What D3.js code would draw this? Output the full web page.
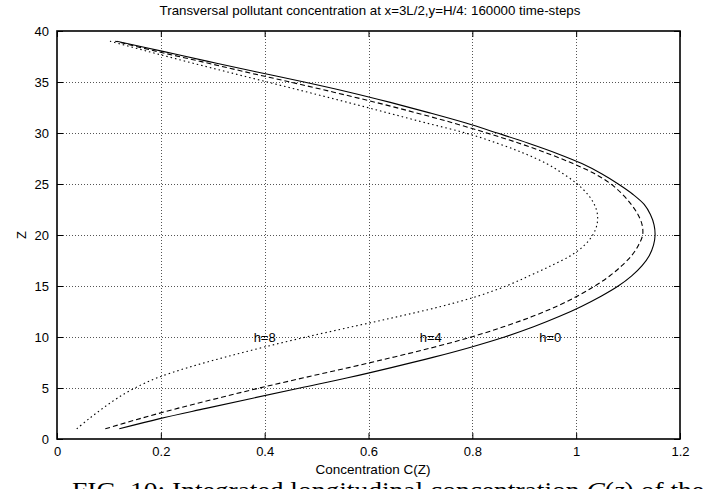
<!DOCTYPE html>
<html>
<head>
<meta charset="utf-8">
<script src="https://cdn.jsdelivr.net/npm/d3@7"></script>
<style>
  html, body { margin: 0; padding: 0; background: #fff; }
  svg { display: block; }
  text { font-family: "Liberation Sans", Arial, Helvetica, sans-serif; fill: #000; }
</style>
</head>
<body>
<svg id="chart" width="709" height="489"></svg>
<script>
// Height levels z (grid cells) and the concentration profiles C(z) for three values of h
const zLevels = [1,2,3,4,5,6,7,8,9,10,11,12,13,14,15,16,17,18,19,20,21,22,23,24,25,26,27,28,29,30,31,32,33,34,35,36,37,38,39];
const concH0 = [0.120,0.198,0.287,0.377,0.468,0.560,0.644,0.724,0.797,0.862,0.918,0.967,1.010,1.048,1.081,1.107,1.127,1.141,1.149,1.152,
                1.150,1.143,1.131,1.109,1.081,1.049,1.011,0.963,0.908,0.848,0.786,0.716,0.642,0.563,0.476,0.383,0.293,0.204,0.115];
const concH4 = [0.093,0.160,0.232,0.310,0.390,0.475,0.562,0.646,0.726,0.798,0.860,0.915,0.962,1.002,1.036,1.065,1.088,1.107,1.120,1.128,
                1.127,1.119,1.106,1.089,1.067,1.036,0.994,0.945,0.890,0.828,0.762,0.690,0.614,0.533,0.449,0.362,0.278,0.192,0.112];
const concH8 = [0.038,0.062,0.088,0.116,0.150,0.193,0.252,0.322,0.398,0.480,0.568,0.657,0.740,0.810,0.865,0.910,0.952,0.990,1.016,1.032,
                1.040,1.041,1.035,1.022,1.002,0.975,0.943,0.900,0.848,0.787,0.710,0.635,0.560,0.483,0.405,0.327,0.250,0.175,0.102];

const seriesNames = ["h=0", "h=4", "h=8"];
// label anchor for each curve (C, z)
const labelC = [0.95, 0.72, 0.40];
const labelZ = [10, 10, 10];

const xTicks = [0, 0.2, 0.4, 0.6, 0.8, 1, 1.2];
const yTicks = [0, 5, 10, 15, 20, 25, 30, 35, 40];

const titleText = "Transversal pollutant concentration at x=3L/2,y=H/4: 160000 time-steps";
const xLabel = "Concentration C(Z)";
const yLabel = "Z";

const svg = d3.select("#chart");
const L = 57, R = 680, T = 31, B = 439;

const x = d3.scaleLinear().domain([0, 1.2]).range([L, R]);
const y = d3.scaleLinear().domain([0, 40]).range([B, T]);
const px = v => Math.round(v) + 0.5;

// dotted grid at every inner tick
const grid = svg.append("g").attr("class", "grid");
grid.selectAll("line.gx").data(xTicks.slice(1, -1)).enter().append("line").attr("class", "gx")
  .attr("x1", d => px(x(d))).attr("x2", d => px(x(d))).attr("y1", B).attr("y2", T);
grid.selectAll("line.gy").data(yTicks.slice(1, -1)).enter().append("line").attr("class", "gy")
  .attr("x1", L).attr("x2", R).attr("y1", d => px(y(d))).attr("y2", d => px(y(d)));
grid.selectAll("line")
  .attr("stroke", "#555").attr("stroke-width", 1).attr("stroke-dasharray", "1,2");

// axes: ticks pointing inwards on all four sides
const tickLen = 6;
const axB = svg.append("g").attr("transform", `translate(0,${B})`)
  .call(d3.axisBottom(x).tickValues(xTicks).tickSize(-tickLen).tickPadding(8).tickFormat(d3.format("~g")));
const axT = svg.append("g").attr("transform", `translate(0,${T})`)
  .call(d3.axisTop(x).tickValues(xTicks).tickSize(-tickLen).tickFormat(""));
const axL = svg.append("g").attr("transform", `translate(${L},0)`)
  .call(d3.axisLeft(y).tickValues(yTicks).tickSize(-tickLen).tickPadding(8));
const axR = svg.append("g").attr("transform", `translate(${R},0)`)
  .call(d3.axisRight(y).tickValues(yTicks).tickSize(-tickLen).tickFormat(""));
[axB, axT, axL, axR].forEach(a => {
  a.select(".domain").remove();
  a.selectAll(".tick line").attr("stroke", "#000").attr("stroke-width", 1);
  a.selectAll("text").style("font-size", "13px").attr("fill", "#000")
    .style("font-family", '"Liberation Sans", Arial, sans-serif');
});

// border
svg.append("rect").attr("x", L).attr("y", T).attr("width", R - L).attr("height", B - T)
  .attr("fill", "none").attr("stroke", "#000").attr("stroke-width", 1.6);

// curves
const lineGen = d3.line().x(d => x(d[0])).y(d => y(d[1])).curve(d3.curveCatmullRom.alpha(0.5));
const styles = [
  { dash: null, w: 1.1 },
  { dash: "5,3", w: 1.1 },
  { dash: "1.5,3", w: 1.1 }
];
[concH0, concH4, concH8].forEach((vals, i) => {
  const pts = vals.map((c, k) => [c, zLevels[k]]);
  svg.append("path").datum(pts)
    .attr("d", lineGen)
    .attr("fill", "none").attr("stroke", "#000")
    .attr("stroke-width", styles[i].w)
    .attr("stroke-dasharray", styles[i].dash);
});

// curve labels
svg.selectAll("text.clabel").data(seriesNames).enter().append("text").attr("class", "clabel")
  .attr("x", (d, i) => x(labelC[i])).attr("y", (d, i) => y(labelZ[i]) + 5)
  .attr("text-anchor", "middle").style("font-size", "13px").text(d => d);

// title and axis labels
svg.append("text").attr("x", 370).attr("y", 15).attr("text-anchor", "middle")
  .style("font-size", "13.3px").text(titleText);
svg.append("text").attr("x", 373).attr("y", 474).attr("text-anchor", "middle")
  .style("font-size", "13.5px").text(xLabel);
svg.append("text").attr("transform", `translate(21,${y(20)}) rotate(-90)`).attr("text-anchor", "middle")
  .attr("dy", "0.35em").style("font-size", "13px").text(yLabel);

// figure caption below the plot
const cap = svg.append("text").attr("x", 72).attr("y", 498)
  .attr("textLength", 632).attr("lengthAdjust", "spacingAndGlyphs")
  .style("font-family", '"Liberation Serif", "DejaVu Serif", serif').style("font-size", "23px");
cap.append("tspan").text("FIG. 10:  Integrated longitudinal concentration ");
cap.append("tspan").style("font-style", "italic").text("C");
cap.append("tspan").text("(");
cap.append("tspan").style("font-style", "italic").text("z");
cap.append("tspan").text(") of the");
</script>
</body>
</html>
